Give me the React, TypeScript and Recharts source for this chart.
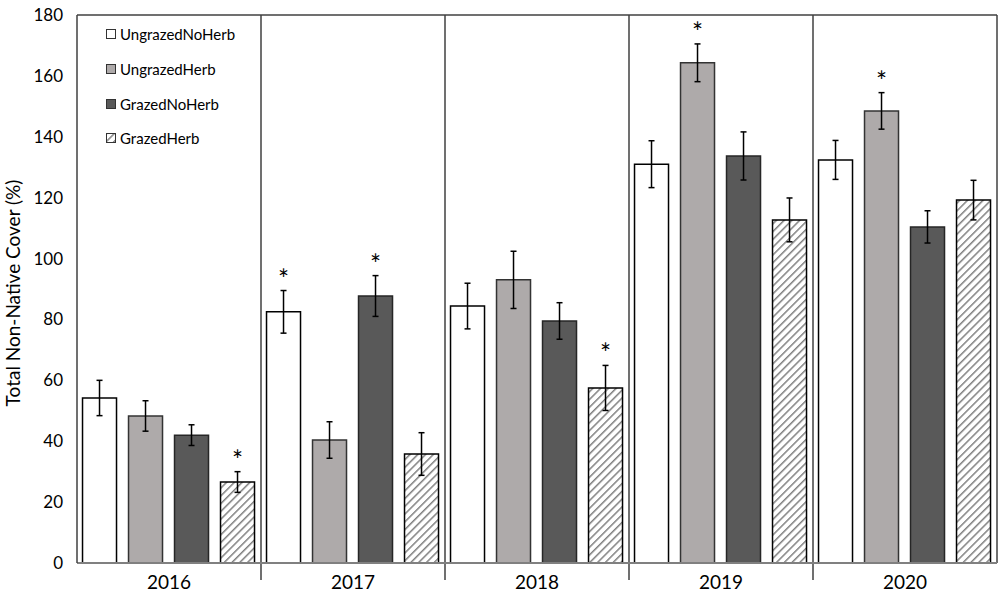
import React from 'react';
import {
  BarChart,
  Bar,
  XAxis,
  YAxis,
  ErrorBar,
  LabelList,
  Legend,
  ReferenceLine,
} from 'recharts';

// values (mean and standard error per year)
const years = ['2016', '2017', '2018', '2019', '2020'];

const ungrazedNoHerb = [54.2, 82.5, 84.4, 131.0, 132.4];
const ungrazedNoHerbSE = [5.8, 7.0, 7.5, 7.7, 6.4];
const ungrazedHerb = [48.3, 40.4, 93.0, 164.3, 148.5];
const ungrazedHerbSE = [5.0, 6.0, 9.4, 6.2, 6.0];
const grazedNoHerb = [42.0, 87.7, 79.5, 133.7, 110.4];
const grazedNoHerbSE = [3.4, 6.7, 6.0, 7.9, 5.3];
const grazedHerb = [26.6, 35.8, 57.5, 112.7, 119.2];
const grazedHerbSE = [3.4, 7.0, 7.4, 7.2, 6.5];

// significance markers (*)
const sigUngrazedNoHerb = [false, true, false, false, false];
const sigUngrazedHerb = [false, false, false, true, true];
const sigGrazedNoHerb = [false, true, false, false, false];
const sigGrazedHerb = [true, false, true, false, false];

const yTicks = [0, 20, 40, 60, 80, 100, 120, 140, 160, 180];

const FONT = 'Lato, "Open Sans", sans-serif';

const data = years.map((year, i) => ({
  year,
  unh: ungrazedNoHerb[i],
  unhSE: ungrazedNoHerbSE[i],
  uh: ungrazedHerb[i],
  uhSE: ungrazedHerbSE[i],
  gnh: grazedNoHerb[i],
  gnhSE: grazedNoHerbSE[i],
  gh: grazedHerb[i],
  ghSE: grazedHerbSE[i],
}));

const series = [
  { key: 'unh', name: 'UngrazedNoHerb', fill: '#FFFFFF', stroke: '#000000', se: ungrazedNoHerbSE, sig: sigUngrazedNoHerb },
  { key: 'uh', name: 'UngrazedHerb', fill: '#AEAAAA', stroke: '#333333', se: ungrazedHerbSE, sig: sigUngrazedHerb },
  { key: 'gnh', name: 'GrazedNoHerb', fill: '#595959', stroke: '#262626', se: grazedNoHerbSE, sig: sigGrazedNoHerb },
  { key: 'gh', name: 'GrazedHerb', fill: 'url(#hatch)', stroke: '#000000', se: grazedHerbSE, sig: sigGrazedHerb },
];

// asterisk above the error bar, converted with the bar's own px-per-unit
const starLabel = (sig: boolean[], se: number[]) => (props: any) => {
  const { x, y, width, height, value, index } = props;
  if (!sig[index] || !value) return null;
  const pxPerUnit = Number(height) / Number(value);
  const errTop = Number(y) - se[index] * pxPerUnit;
  return (
    <text
      x={Number(x) + Number(width) / 2}
      y={errTop - 2}
      textAnchor="middle"
      fontSize={26}
      fontFamily={FONT}
      fill="#000"
    >
      *
    </text>
  );
};

const renderLegend = () => (
  <div style={{ fontFamily: FONT, fontSize: 15, color: '#000' }}>
    {series.map((s) => (
      <div key={s.key} style={{ display: 'flex', alignItems: 'center', height: 34.7 }}>
        <svg width={12} height={10} style={{ marginRight: 2 }}>
          <rect x={0.5} y={0.5} width={9} height={9} fill={s.fill} stroke="#333" strokeWidth={1} />
        </svg>
        <span>{s.name}</span>
      </div>
    ))}
  </div>
);

export default function App() {
  return (
    <div style={{ position: 'absolute', left: 0, top: 0, background: '#fff' }}>
      <BarChart
        width={1004}
        height={595}
        data={data}
        margin={{ top: 15, right: 7, left: 0, bottom: 0 }}
        barCategoryGap="3%"
        barGap={12}
      >
        <defs>
          <pattern
            id="hatch"
            patternUnits="userSpaceOnUse"
            width={5.5}
            height={5.5}
            patternTransform="rotate(45)"
          >
            <rect width={5.5} height={5.5} fill="#FFFFFF" />
            <line x1={0} y1={0} x2={0} y2={5.5} stroke="#7F7F7F" strokeWidth={3} />
          </pattern>
        </defs>
        <XAxis
          dataKey="year"
          height={32}
          tickLine={false}
          axisLine={{ stroke: '#808080', strokeWidth: 2 }}
          tick={{ fontSize: 19, fill: '#000', fontFamily: FONT }}
          tickMargin={7}
        />
        <YAxis
          width={77}
          domain={[0, 180]}
          ticks={yTicks}
          interval={0}
          tickLine={false}
          axisLine={{ stroke: '#404040', strokeWidth: 1.5 }}
          tick={{ fontSize: 17, fill: '#000', fontFamily: FONT }}
          tickMargin={8}
          label={{
            value: 'Total Non-Native Cover (%)',
            angle: -90,
            position: 'insideLeft',
            dx: 8,
            dy: 4,
            style: { fontSize: 19, fill: '#000', fontFamily: FONT, textAnchor: 'middle' },
          }}
        />
        <ReferenceLine y={180} stroke="#404040" strokeWidth={1.5} />
        <ReferenceLine
          ifOverflow="visible"
          position="end"
          segment={[{ x: years[years.length - 1], y: 0 }, { x: years[years.length - 1], y: 180 }]}
          stroke="#404040"
          strokeWidth={1.5}
        />
        {years.slice(1).map((yr) => (
          <ReferenceLine
            key={yr}
            ifOverflow="visible"
            position="start"
            segment={[{ x: yr, y: -5.6 }, { x: yr, y: 180 }]}
            stroke="#404040"
            strokeWidth={1.5}
          />
        ))}
        {series.map((s) => (
          <Bar
            key={s.key}
            dataKey={s.key}
            name={s.name}
            fill={s.fill}
            stroke={s.stroke}
            strokeWidth={1.5}
            isAnimationActive={false}
          >
            <ErrorBar dataKey={`${s.key}SE`} width={3} stroke="#000" strokeWidth={1.5} direction="y" />
            <LabelList dataKey={s.key} content={starLabel(s.sig, s.se)} />
          </Bar>
        ))}
        <Legend
          layout="vertical"
          align="center"
          verticalAlign="middle"
          content={renderLegend}
          wrapperStyle={{ left: 106, top: 17, width: 'auto' }}
        />
      </BarChart>
    </div>
  );
}
